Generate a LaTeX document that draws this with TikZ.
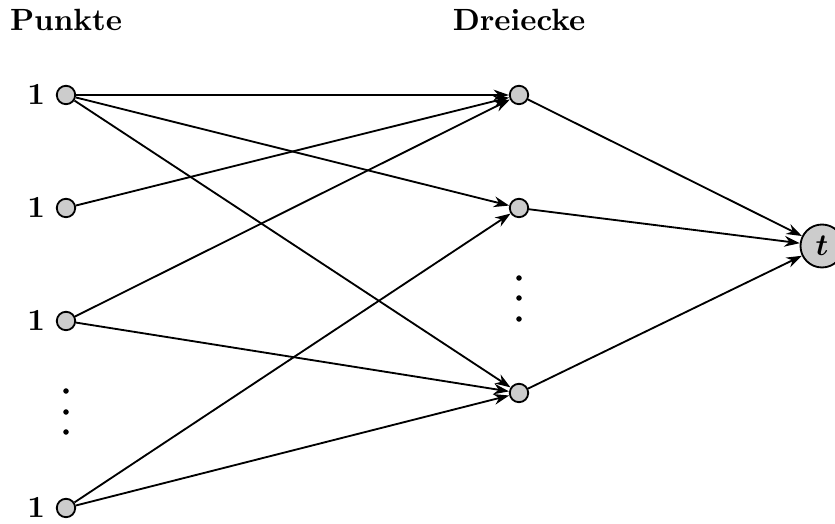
\documentclass[tikz,border=0pt]{standalone}
\usepackage{amsmath,bm}
\usetikzlibrary{arrows.meta, positioning}

\begin{document}
\begin{tikzpicture}[
  x=0.01145cm, y=-0.01145cm,
  pt/.style={
    draw,
    circle,
    fill=black!20,
    semithick,
    inner sep=0pt,
    minimum size=6pt,
    label distance=2pt
  },
  sink/.style={
    draw,
    circle,
    fill=black!20,
    semithick,
    inner sep=0pt,
    minimum size=14pt
  },
  head/.style={
    anchor=base,
    font=\bfseries
  },
  arrow/.style={
    -{Stealth[length=5pt,width=3.5pt]},
    semithick
  },
  dot/.style={
    fill,
    circle,
    inner sep=0pt,
    minimum size=1.8pt
  }
]
\useasboundingbox (0,0) rectangle (835,524);

% Headings
\node[head] (hpunkte) at (66,31) {Punkte};
\node[head] (hdreiecke) at (519,31) {Dreiecke};

% Nodes
\node[pt, label=left:{$\mathbf{1}$}] (p1) at (66,95) {};
\node[pt, label=left:{$\mathbf{1}$}] (p2) at (66,208) {};
\node[pt, label=left:{$\mathbf{1}$}] (p3) at (66,321) {};
\node[pt, label=left:{$\mathbf{1}$}] (p4) at (66,508) {};

\node[pt] (d1) at (519,95) {};
\node[pt] (d2) at (519,208) {};
\node[pt] (d3) at (519,393) {};

\node[sink] (t) at (822,246) {$\bm{t}$};

% Dots
\foreach \y in {391,412,432} \node[dot] at (66,\y) {};
\foreach \y in {278,298,319} \node[dot] at (519,\y) {};

% Arrows
\draw[arrow] (p1) -- (d1);
\draw[arrow] (p1) -- (d2);
\draw[arrow] (p1) -- (d3);
\draw[arrow] (p2) -- (d1);
\draw[arrow] (p3) -- (d1);
\draw[arrow] (p3) -- (d3);
\draw[arrow] (p4) -- (d2);
\draw[arrow] (p4) -- (d3);

\draw[arrow] (d1) -- (t);
\draw[arrow] (d2) -- (t);
\draw[arrow] (d3) -- (t);

\end{tikzpicture}
\end{document}
